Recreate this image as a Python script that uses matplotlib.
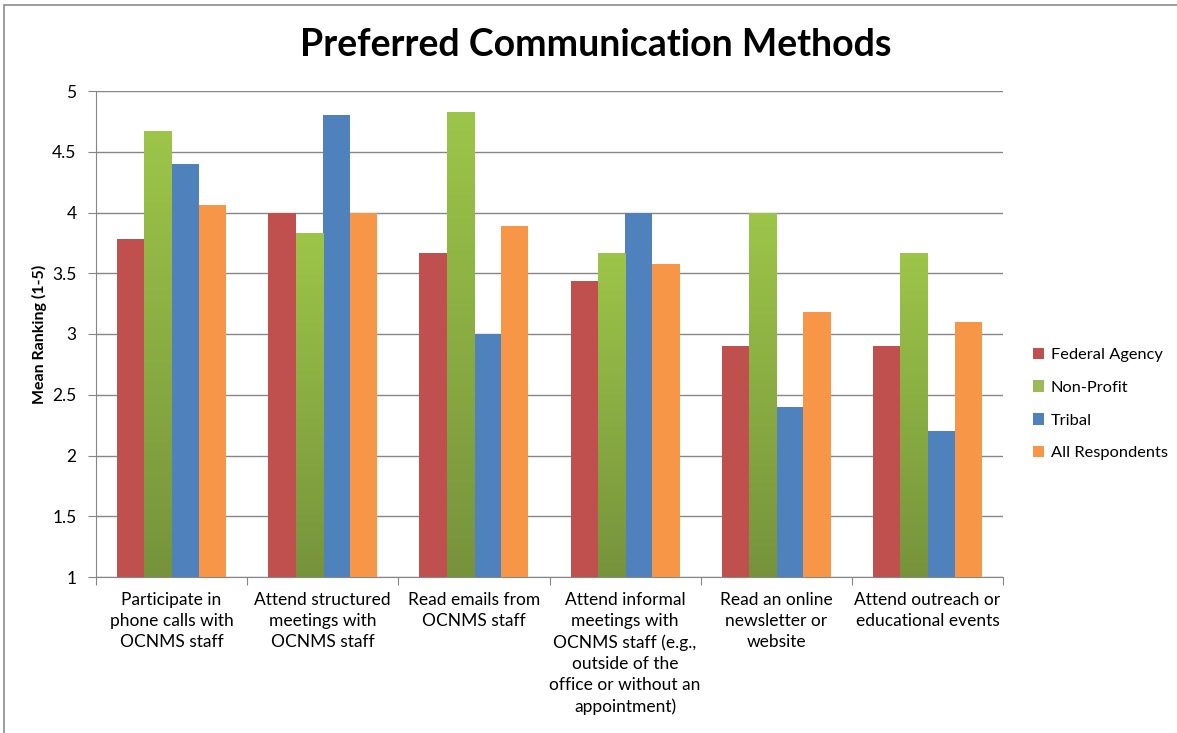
import numpy as np
import matplotlib.pyplot as plt
from matplotlib.patches import Rectangle, Patch
from matplotlib.colors import LinearSegmentedColormap

plt.rcParams['font.family'] = ['Lato', 'DejaVu Sans']

categories = [
    "Participate in\nphone calls with\nOCNMS staff",
    "Attend structured\nmeetings with\nOCNMS staff",
    "Read emails from\nOCNMS staff",
    "Attend informal\nmeetings with\nOCNMS staff (e.g.,\noutside of the\noffice or without an\nappointment)",
    "Read an online\nnewsletter or\nwebsite",
    "Attend outreach or\neducational events",
]
series_names = ["Federal Agency", "Non-Profit", "Tribal", "All Respondents"]
federal = [3.78, 4.00, 3.67, 3.44, 2.90, 2.90]
nonprofit = [4.67, 3.83, 4.83, 3.67, 4.00, 3.67]
tribal = [4.40, 4.80, 3.00, 4.00, 2.40, 2.20]
all_resp = [4.06, 4.00, 3.89, 3.58, 3.18, 3.10]

colors = ["#C0504D", "#9BBB59", "#4F81BD", "#F79646"]
green_grad = LinearSegmentedColormap.from_list("g", ["#76933C", "#9DC549"])

fig = plt.figure(figsize=(11.77, 7.33), dpi=100)
ax = fig.add_axes([96 / 1177, 1 - 577 / 733, (1003 - 96) / 1177, (577 - 91) / 733])

x = np.arange(len(categories))
width = 0.18
data = [federal, nonprofit, tribal, all_resp]
for i, vals in enumerate(data):
    offs = (i - 1.5) * width
    bars = ax.bar(x + offs, np.array(vals) - 1, width, bottom=1, color=colors[i],
                  zorder=3, linewidth=0)
    if i == 1:
        # vertical gradient on the green bars
        grad = np.linspace(0, 1, 256).reshape(-1, 1)
        for b in bars:
            bx, by = b.get_x(), b.get_y()
            im = ax.imshow(grad, cmap=green_grad, origin='lower', aspect='auto',
                           extent=[bx, bx + b.get_width(), by, by + b.get_height()],
                           zorder=3.5)
            im.set_clip_path(b)

ax.set_xlim(-0.5, len(categories) - 0.5)
ax.set_ylim(1, 5)
ax.set_yticks([1, 1.5, 2, 2.5, 3, 3.5, 4, 4.5, 5])
ax.set_yticklabels(["1", "1.5", "2", "2.5", "3", "3.5", "4", "4.5", "5"])
ax.grid(axis='y', color='#868686', linewidth=1, zorder=0)
ax.set_xticks(np.arange(-0.5, len(categories), 1))
ax.set_xticklabels([])
ax.set_xticks(x, minor=True)
ax.set_xticklabels(categories, minor=True, fontsize=12.5, linespacing=1.38, va='top')
ax.tick_params(axis='x', which='minor', length=0, pad=11)
ax.tick_params(axis='x', which='major', length=6, color='#868686')
ax.tick_params(axis='y', length=6, color='#868686', labelsize=12.5, pad=8)
for side in ['top', 'right']:
    ax.spines[side].set_visible(False)
for side in ['left', 'bottom']:
    ax.spines[side].set_color('#868686')

ax.set_ylabel("Mean Ranking (1-5)", fontsize=11.5, fontweight='bold', labelpad=4)
fig.text(596 / 1177, 1 - 45 / 733, "Preferred Communication Methods", ha='center',
         va='center', fontsize=27, fontweight='bold')

handles = [Patch(facecolor=c, label=n) for c, n in zip(colors, series_names)]
fig.legend(handles=handles, loc='center left', bbox_to_anchor=(1018 / 1177, 1 - 404 / 733),
           frameon=False, fontsize=11.8, handlelength=0.7, handleheight=0.7,
           handletextpad=0.4, labelspacing=1.12)

# chart border (bottom and right edges fall outside the figure)
fig.add_artist(Rectangle((4 / 1177, -0.05), 1.2, 1.05 - 5 / 733, transform=fig.transFigure,
                         fill=False, edgecolor='#8C8C8C', linewidth=1.2))

fig.savefig("out.png", dpi=100, facecolor='white')
